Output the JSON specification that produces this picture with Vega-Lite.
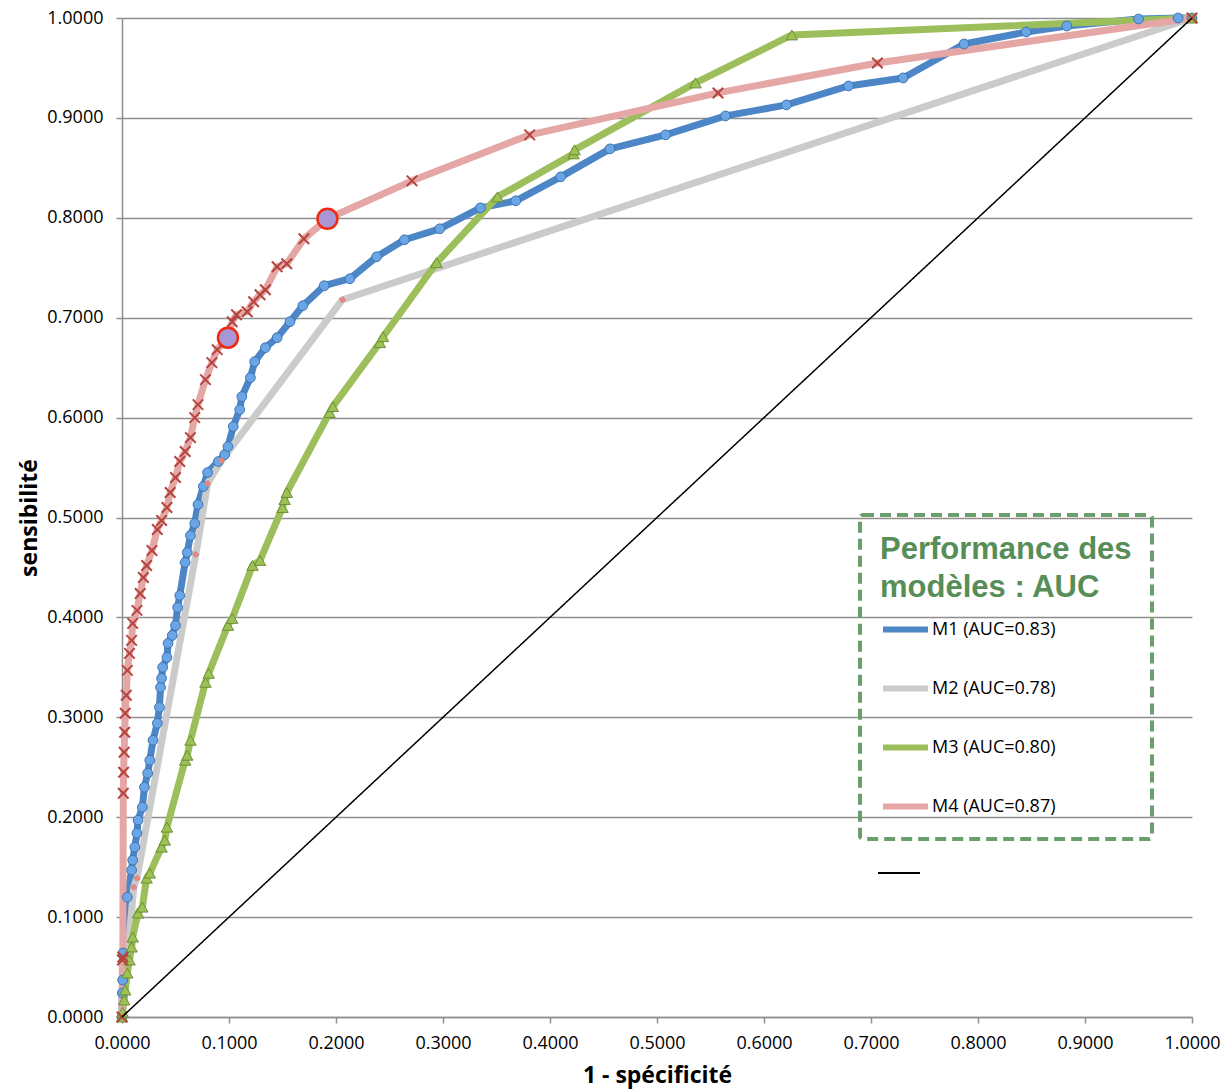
{
  "$schema": "https://vega.github.io/schema/vega-lite/v6.json",
  "width": 1070,
  "height": 999,
  "autosize": {"type": "none"},
  "padding": {"left": 122, "top": 18, "right": 32, "bottom": 73},
  "background": "white",
  "config": {"view": {"stroke": null}, "font": "Open Sans"},
  "datasets": {
    "roc": [
      {"s": "M1 (AUC=0.83)", "x": 0, "y": 0},
      {"s": "M1 (AUC=0.83)", "x": 0.0003, "y": 0.024},
      {"s": "M1 (AUC=0.83)", "x": 0.0006, "y": 0.037},
      {"s": "M1 (AUC=0.83)", "x": 0.001, "y": 0.064},
      {"s": "M1 (AUC=0.83)", "x": 0.005, "y": 0.120},
      {"s": "M1 (AUC=0.83)", "x": 0.009, "y": 0.147},
      {"s": "M1 (AUC=0.83)", "x": 0.010, "y": 0.157},
      {"s": "M1 (AUC=0.83)", "x": 0.012, "y": 0.170},
      {"s": "M1 (AUC=0.83)", "x": 0.014, "y": 0.184},
      {"s": "M1 (AUC=0.83)", "x": 0.015, "y": 0.197},
      {"s": "M1 (AUC=0.83)", "x": 0.019, "y": 0.210},
      {"s": "M1 (AUC=0.83)", "x": 0.021, "y": 0.230},
      {"s": "M1 (AUC=0.83)", "x": 0.024, "y": 0.244},
      {"s": "M1 (AUC=0.83)", "x": 0.026, "y": 0.257},
      {"s": "M1 (AUC=0.83)", "x": 0.029, "y": 0.277},
      {"s": "M1 (AUC=0.83)", "x": 0.033, "y": 0.294},
      {"s": "M1 (AUC=0.83)", "x": 0.035, "y": 0.310},
      {"s": "M1 (AUC=0.83)", "x": 0.036, "y": 0.330},
      {"s": "M1 (AUC=0.83)", "x": 0.037, "y": 0.339},
      {"s": "M1 (AUC=0.83)", "x": 0.038, "y": 0.350},
      {"s": "M1 (AUC=0.83)", "x": 0.042, "y": 0.360},
      {"s": "M1 (AUC=0.83)", "x": 0.043, "y": 0.374},
      {"s": "M1 (AUC=0.83)", "x": 0.047, "y": 0.382},
      {"s": "M1 (AUC=0.83)", "x": 0.050, "y": 0.392},
      {"s": "M1 (AUC=0.83)", "x": 0.052, "y": 0.410},
      {"s": "M1 (AUC=0.83)", "x": 0.054, "y": 0.422},
      {"s": "M1 (AUC=0.83)", "x": 0.059, "y": 0.455},
      {"s": "M1 (AUC=0.83)", "x": 0.061, "y": 0.465},
      {"s": "M1 (AUC=0.83)", "x": 0.064, "y": 0.482},
      {"s": "M1 (AUC=0.83)", "x": 0.068, "y": 0.494},
      {"s": "M1 (AUC=0.83)", "x": 0.071, "y": 0.513},
      {"s": "M1 (AUC=0.83)", "x": 0.076, "y": 0.531},
      {"s": "M1 (AUC=0.83)", "x": 0.080, "y": 0.545},
      {"s": "M1 (AUC=0.83)", "x": 0.090, "y": 0.556},
      {"s": "M1 (AUC=0.83)", "x": 0.096, "y": 0.563},
      {"s": "M1 (AUC=0.83)", "x": 0.099, "y": 0.571},
      {"s": "M1 (AUC=0.83)", "x": 0.104, "y": 0.591},
      {"s": "M1 (AUC=0.83)", "x": 0.110, "y": 0.608},
      {"s": "M1 (AUC=0.83)", "x": 0.112, "y": 0.621},
      {"s": "M1 (AUC=0.83)", "x": 0.120, "y": 0.640},
      {"s": "M1 (AUC=0.83)", "x": 0.124, "y": 0.656},
      {"s": "M1 (AUC=0.83)", "x": 0.134, "y": 0.670},
      {"s": "M1 (AUC=0.83)", "x": 0.145, "y": 0.680},
      {"s": "M1 (AUC=0.83)", "x": 0.157, "y": 0.696},
      {"s": "M1 (AUC=0.83)", "x": 0.169, "y": 0.712},
      {"s": "M1 (AUC=0.83)", "x": 0.189, "y": 0.732},
      {"s": "M1 (AUC=0.83)", "x": 0.213, "y": 0.739},
      {"s": "M1 (AUC=0.83)", "x": 0.238, "y": 0.761},
      {"s": "M1 (AUC=0.83)", "x": 0.264, "y": 0.778},
      {"s": "M1 (AUC=0.83)", "x": 0.297, "y": 0.789},
      {"s": "M1 (AUC=0.83)", "x": 0.335, "y": 0.810},
      {"s": "M1 (AUC=0.83)", "x": 0.368, "y": 0.817},
      {"s": "M1 (AUC=0.83)", "x": 0.410, "y": 0.841},
      {"s": "M1 (AUC=0.83)", "x": 0.456, "y": 0.869},
      {"s": "M1 (AUC=0.83)", "x": 0.508, "y": 0.883},
      {"s": "M1 (AUC=0.83)", "x": 0.564, "y": 0.902},
      {"s": "M1 (AUC=0.83)", "x": 0.621, "y": 0.913},
      {"s": "M1 (AUC=0.83)", "x": 0.679, "y": 0.932},
      {"s": "M1 (AUC=0.83)", "x": 0.730, "y": 0.940},
      {"s": "M1 (AUC=0.83)", "x": 0.787, "y": 0.974},
      {"s": "M1 (AUC=0.83)", "x": 0.845, "y": 0.986},
      {"s": "M1 (AUC=0.83)", "x": 0.883, "y": 0.992},
      {"s": "M1 (AUC=0.83)", "x": 0.950, "y": 0.999},
      {"s": "M1 (AUC=0.83)", "x": 0.987, "y": 1.0},
      {"s": "M1 (AUC=0.83)", "x": 1.0, "y": 1.0},
      {"s": "M2 (AUC=0.78)", "x": 0, "y": 0},
      {"s": "M2 (AUC=0.78)", "x": 0.011, "y": 0.130},
      {"s": "M2 (AUC=0.78)", "x": 0.014, "y": 0.139},
      {"s": "M2 (AUC=0.78)", "x": 0.069, "y": 0.463},
      {"s": "M2 (AUC=0.78)", "x": 0.080, "y": 0.534},
      {"s": "M2 (AUC=0.78)", "x": 0.093, "y": 0.557},
      {"s": "M2 (AUC=0.78)", "x": 0.206, "y": 0.718},
      {"s": "M2 (AUC=0.78)", "x": 1.0, "y": 1.0},
      {"s": "M3 (AUC=0.80)", "x": 0, "y": 0},
      {"s": "M3 (AUC=0.80)", "x": 0.0005, "y": 0.005},
      {"s": "M3 (AUC=0.80)", "x": 0.002, "y": 0.017},
      {"s": "M3 (AUC=0.80)", "x": 0.003, "y": 0.027},
      {"s": "M3 (AUC=0.80)", "x": 0.005, "y": 0.044},
      {"s": "M3 (AUC=0.80)", "x": 0.007, "y": 0.057},
      {"s": "M3 (AUC=0.80)", "x": 0.009, "y": 0.070},
      {"s": "M3 (AUC=0.80)", "x": 0.010, "y": 0.080},
      {"s": "M3 (AUC=0.80)", "x": 0.015, "y": 0.104},
      {"s": "M3 (AUC=0.80)", "x": 0.019, "y": 0.110},
      {"s": "M3 (AUC=0.80)", "x": 0.023, "y": 0.139},
      {"s": "M3 (AUC=0.80)", "x": 0.026, "y": 0.144},
      {"s": "M3 (AUC=0.80)", "x": 0.037, "y": 0.170},
      {"s": "M3 (AUC=0.80)", "x": 0.040, "y": 0.177},
      {"s": "M3 (AUC=0.80)", "x": 0.042, "y": 0.190},
      {"s": "M3 (AUC=0.80)", "x": 0.059, "y": 0.257},
      {"s": "M3 (AUC=0.80)", "x": 0.061, "y": 0.262},
      {"s": "M3 (AUC=0.80)", "x": 0.064, "y": 0.277},
      {"s": "M3 (AUC=0.80)", "x": 0.078, "y": 0.335},
      {"s": "M3 (AUC=0.80)", "x": 0.081, "y": 0.344},
      {"s": "M3 (AUC=0.80)", "x": 0.099, "y": 0.392},
      {"s": "M3 (AUC=0.80)", "x": 0.103, "y": 0.399},
      {"s": "M3 (AUC=0.80)", "x": 0.122, "y": 0.452},
      {"s": "M3 (AUC=0.80)", "x": 0.129, "y": 0.457},
      {"s": "M3 (AUC=0.80)", "x": 0.150, "y": 0.510},
      {"s": "M3 (AUC=0.80)", "x": 0.152, "y": 0.518},
      {"s": "M3 (AUC=0.80)", "x": 0.154, "y": 0.525},
      {"s": "M3 (AUC=0.80)", "x": 0.194, "y": 0.605},
      {"s": "M3 (AUC=0.80)", "x": 0.197, "y": 0.611},
      {"s": "M3 (AUC=0.80)", "x": 0.241, "y": 0.675},
      {"s": "M3 (AUC=0.80)", "x": 0.244, "y": 0.681},
      {"s": "M3 (AUC=0.80)", "x": 0.294, "y": 0.755},
      {"s": "M3 (AUC=0.80)", "x": 0.351, "y": 0.821},
      {"s": "M3 (AUC=0.80)", "x": 0.422, "y": 0.864},
      {"s": "M3 (AUC=0.80)", "x": 0.423, "y": 0.868},
      {"s": "M3 (AUC=0.80)", "x": 0.536, "y": 0.935},
      {"s": "M3 (AUC=0.80)", "x": 0.626, "y": 0.983},
      {"s": "M3 (AUC=0.80)", "x": 1.0, "y": 1.0},
      {"s": "M4 (AUC=0.87)", "x": 0, "y": 0},
      {"s": "M4 (AUC=0.87)", "x": 0.0004, "y": 0.057},
      {"s": "M4 (AUC=0.87)", "x": 0.0008, "y": 0.060},
      {"s": "M4 (AUC=0.87)", "x": 0.0012, "y": 0.224},
      {"s": "M4 (AUC=0.87)", "x": 0.0015, "y": 0.245},
      {"s": "M4 (AUC=0.87)", "x": 0.002, "y": 0.265},
      {"s": "M4 (AUC=0.87)", "x": 0.0025, "y": 0.285},
      {"s": "M4 (AUC=0.87)", "x": 0.003, "y": 0.304},
      {"s": "M4 (AUC=0.87)", "x": 0.004, "y": 0.322},
      {"s": "M4 (AUC=0.87)", "x": 0.005, "y": 0.347},
      {"s": "M4 (AUC=0.87)", "x": 0.007, "y": 0.364},
      {"s": "M4 (AUC=0.87)", "x": 0.009, "y": 0.377},
      {"s": "M4 (AUC=0.87)", "x": 0.010, "y": 0.394},
      {"s": "M4 (AUC=0.87)", "x": 0.014, "y": 0.407},
      {"s": "M4 (AUC=0.87)", "x": 0.017, "y": 0.424},
      {"s": "M4 (AUC=0.87)", "x": 0.020, "y": 0.440},
      {"s": "M4 (AUC=0.87)", "x": 0.023, "y": 0.452},
      {"s": "M4 (AUC=0.87)", "x": 0.028, "y": 0.467},
      {"s": "M4 (AUC=0.87)", "x": 0.033, "y": 0.488},
      {"s": "M4 (AUC=0.87)", "x": 0.037, "y": 0.497},
      {"s": "M4 (AUC=0.87)", "x": 0.042, "y": 0.510},
      {"s": "M4 (AUC=0.87)", "x": 0.045, "y": 0.525},
      {"s": "M4 (AUC=0.87)", "x": 0.050, "y": 0.540},
      {"s": "M4 (AUC=0.87)", "x": 0.054, "y": 0.556},
      {"s": "M4 (AUC=0.87)", "x": 0.059, "y": 0.566},
      {"s": "M4 (AUC=0.87)", "x": 0.064, "y": 0.580},
      {"s": "M4 (AUC=0.87)", "x": 0.068, "y": 0.600},
      {"s": "M4 (AUC=0.87)", "x": 0.071, "y": 0.613},
      {"s": "M4 (AUC=0.87)", "x": 0.078, "y": 0.638},
      {"s": "M4 (AUC=0.87)", "x": 0.084, "y": 0.655},
      {"s": "M4 (AUC=0.87)", "x": 0.089, "y": 0.668},
      {"s": "M4 (AUC=0.87)", "x": 0.099, "y": 0.680},
      {"s": "M4 (AUC=0.87)", "x": 0.103, "y": 0.696},
      {"s": "M4 (AUC=0.87)", "x": 0.107, "y": 0.703},
      {"s": "M4 (AUC=0.87)", "x": 0.117, "y": 0.706},
      {"s": "M4 (AUC=0.87)", "x": 0.123, "y": 0.716},
      {"s": "M4 (AUC=0.87)", "x": 0.129, "y": 0.723},
      {"s": "M4 (AUC=0.87)", "x": 0.134, "y": 0.728},
      {"s": "M4 (AUC=0.87)", "x": 0.145, "y": 0.751},
      {"s": "M4 (AUC=0.87)", "x": 0.154, "y": 0.754},
      {"s": "M4 (AUC=0.87)", "x": 0.170, "y": 0.779},
      {"s": "M4 (AUC=0.87)", "x": 0.192, "y": 0.799},
      {"s": "M4 (AUC=0.87)", "x": 0.271, "y": 0.837},
      {"s": "M4 (AUC=0.87)", "x": 0.381, "y": 0.883},
      {"s": "M4 (AUC=0.87)", "x": 0.557, "y": 0.925},
      {"s": "M4 (AUC=0.87)", "x": 0.706, "y": 0.955},
      {"s": "M4 (AUC=0.87)", "x": 1.0, "y": 1.0}
    ],
    "diag": [
      {"d": "diag", "x": 0, "y": 0},
      {"d": "diag", "x": 0.25, "y": 0.25},
      {"d": "diag", "x": 0.5, "y": 0.5},
      {"d": "diag", "x": 0.75, "y": 0.75},
      {"d": "diag", "x": 1, "y": 1}
    ],
    "hl": [
      {"x": 0.099, "y": 0.680},
      {"x": 0.192, "y": 0.799}
    ]
  },
  "encoding": {
    "x": {
      "field": "x", "type": "quantitative",
      "scale": {"domain": [0, 1], "nice": false, "zero": false},
      "axis": {
        "title": "1 - spécificité",
        "values": [0, 0.1, 0.2, 0.3, 0.4, 0.5, 0.6, 0.7, 0.8, 0.9, 1],
        "format": ".4f", "grid": false,
        "domainColor": "#8e8e8e", "domainWidth": 1.5,
        "tickColor": "#8e8e8e", "tickWidth": 1.5, "tickSize": 6,
        "labelFont": "Open Sans", "labelFontSize": 18, "labelColor": "#000000",
        "labelPadding": 11, "labelFlush": false, "labelOverlap": false,
        "titleFont": "Open Sans", "titleFontSize": 23, "titleFontWeight": "bold",
        "titleColor": "#000000", "titlePadding": 12
      }
    },
    "y": {
      "field": "y", "type": "quantitative",
      "scale": {"domain": [0, 1], "nice": false, "zero": false},
      "axis": {
        "title": "sensibilité",
        "values": [0, 0.1, 0.2, 0.3, 0.4, 0.5, 0.6, 0.7, 0.8, 0.9, 1],
        "format": ".4f", "grid": true,
        "gridColor": "#8e8e8e", "gridWidth": 1.5,
        "domainColor": "#8e8e8e", "domainWidth": 1.5,
        "tickColor": "#8e8e8e", "tickWidth": 1.5, "tickSize": 6,
        "labelFont": "Open Sans", "labelFontSize": 18, "labelColor": "#000000",
        "labelPadding": 13, "labelOverlap": false,
        "titleFont": "Open Sans", "titleFontSize": 23, "titleFontWeight": "bold",
        "titleColor": "#000000", "titlePadding": 5
      }
    }
  },
  "layer": [
    {
      "data": {"name": "roc"},
      "mark": {"type": "line", "strokeWidth": 7, "strokeJoin": "round", "strokeCap": "round"},
      "encoding": {
        "color": {
          "field": "s", "type": "nominal",
          "scale": {
            "domain": ["M1 (AUC=0.83)", "M2 (AUC=0.78)", "M3 (AUC=0.80)", "M4 (AUC=0.87)"],
            "range": ["#4d86c6", "#cbcbcb", "#9cbf5b", "#e4a7a5"]
          },
          "legend": {
            "orient": "none", "legendX": 738, "legendY": 497,
            "title": ["Performance des", "modèles : AUC"],
            "titleFont": "Liberation Sans", "titleFontSize": 31, "titleFontWeight": "bold",
            "titleColor": "#578d57", "titleLineHeight": 38, "titlePadding": 0, "titleLimit": 400,
            "padding": 20, "strokeColor": "#6a9e6a", "cornerRadius": 3,
            "symbolType": "stroke", "symbolSize": 2025, "symbolStrokeWidth": 6,
            "labelFont": "Open Sans", "labelFontSize": 18, "labelColor": "#000000",
            "labelOffset": 1, "rowPadding": 21, "labelLimit": 300,
            "encoding": {"legend": {"strokeDash": {"value": [11, 6]}, "strokeWidth": {"value": 4}}}
          }
        }
      }
    },
    {
      "data": {"name": "roc"},
      "transform": [{"filter": {"field": "s", "equal": "M1 (AUC=0.83)"}}],
      "mark": {"type": "point", "shape": "circle", "filled": true, "opacity": 1, "size": 95, "fill": "#6aa6e6", "stroke": "#3d73b3", "strokeWidth": 1}
    },
    {
      "data": {"name": "roc"},
      "transform": [{"filter": {"field": "s", "equal": "M2 (AUC=0.78)"}}],
      "mark": {"type": "point", "shape": "circle", "filled": true, "opacity": 1, "size": 30, "fill": "#f2827c", "stroke": "#9a9a9a", "strokeWidth": 1, "strokeDash": [2, 2]}
    },
    {
      "data": {"name": "roc"},
      "transform": [{"filter": {"field": "s", "equal": "M3 (AUC=0.80)"}}],
      "mark": {"type": "point", "shape": "triangle-up", "filled": true, "opacity": 1, "size": 130, "fill": "#9cc154", "stroke": "#6f8f35", "strokeWidth": 1}
    },
    {
      "data": {"name": "roc"},
      "transform": [{"filter": {"field": "s", "equal": "M4 (AUC=0.87)"}}],
      "mark": {"type": "point", "shape": "M-1,-1L1,1M-1,1L1,-1", "filled": false, "opacity": 1, "size": 110, "stroke": "#b5443f", "strokeWidth": 2}
    },
    {
      "data": {"name": "diag"},
      "mark": {"type": "line", "color": "#000000", "strokeWidth": 1.5},
      "encoding": {
        "strokeDash": {
          "field": "d", "type": "nominal",
          "scale": {"domain": ["diag"], "range": [[1, 0]]},
          "legend": {
            "orient": "none", "legendX": 755, "legendY": 833,
            "title": null, "labelExpr": "''", "padding": 0,
            "symbolType": "stroke", "symbolStrokeColor": "#000000",
            "symbolStrokeWidth": 2, "symbolSize": 1764
          }
        }
      }
    },
    {
      "data": {"name": "hl"},
      "mark": {"type": "point", "shape": "circle", "filled": true, "fill": "#a896d6", "stroke": "#f02a10", "strokeWidth": 2.5, "size": 400, "opacity": 1}
    }
  ]
}
